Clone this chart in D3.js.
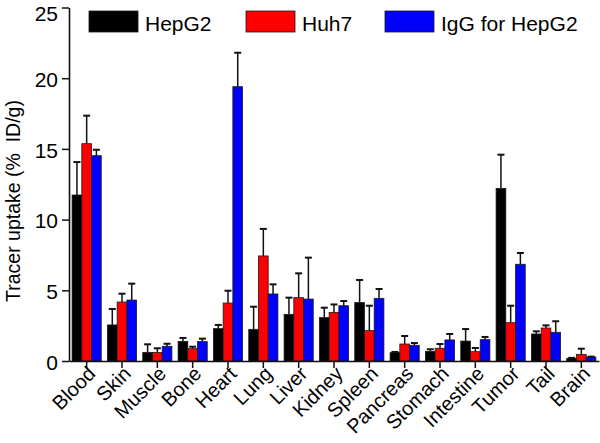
<!DOCTYPE html>
<html>
<head>
<meta charset="utf-8">
<script src="https://cdn.jsdelivr.net/npm/d3@7"></script>
<style>
  html, body { margin: 0; padding: 0; background: #fff; }
  svg { display: block; font-family: "Liberation Sans", Arial, sans-serif; }
</style>
</head>
<body>
<svg id="chart" width="600" height="443"></svg>
<script>
const categories = ["Blood","Skin","Muscle","Bone","Heart","Lung","Liver","Kidney","Spleen","Pancreas","Stomach","Intestine","Tumor","Tail","Brain"];
const seriesNames = ["HepG2", "Huh7", "IgG for HepG2"];
const seriesColors = ["#000000", "#ff0000", "#0000ff"];
const hepg2    = [11.74, 2.55, 0.61, 1.39, 2.29, 2.24, 3.30, 3.07, 4.13, 0.59, 0.68, 1.41, 12.21, 1.91, 0.19];
const hepg2Err = [2.33, 1.13, 0.57, 0.24, 0.26, 1.60, 1.18, 0.70, 1.60, 0.05, 0.15, 0.85, 2.38, 0.19, 0.03];
const huh7     = [15.37, 4.17, 0.60, 0.87, 4.10, 7.43, 4.48, 3.44, 2.15, 1.20, 0.90, 0.66, 2.71, 2.33, 0.47];
const huh7Err  = [1.98, 0.59, 0.30, 0.14, 0.87, 1.91, 1.72, 0.56, 1.76, 0.57, 0.30, 0.26, 1.20, 0.19, 0.40];
const igg      = [14.52, 4.31, 1.04, 1.37, 19.40, 4.74, 4.38, 3.91, 4.43, 1.11, 1.49, 1.51, 6.84, 2.03, 0.28];
const iggErr   = [0.42, 1.16, 0.18, 0.21, 2.40, 0.68, 2.93, 0.33, 0.66, 0.16, 0.42, 0.19, 0.80, 0.78, 0.03];
const yTicks = [0, 5, 10, 15, 20, 25];
const yLabel = "Tracer uptake (%\u00a0 ID/g)";

const values = [hepg2, huh7, igg];
const errors = [hepg2Err, huh7Err, iggErr];

const svg = d3.select("#chart");

const x0 = d3.scaleBand().domain(categories).range([69, 599]).paddingInner(0.175).paddingOuter(0.0875);
const x1 = d3.scaleBand().domain(d3.range(seriesNames.length)).range([0, x0.bandwidth()]);
const y = d3.scaleLinear().domain([0, 25]).range([361, 7.5]);

// bars
const groups = svg.append("g").selectAll("g")
  .data(categories)
  .join("g")
  .attr("transform", d => `translate(${x0(d)},0)`);

groups.each(function(cat, ci) {
  const g = d3.select(this);
  seriesNames.forEach((s, si) => {
    const v = values[si][ci], e = errors[si][ci];
    const bx = x1(si), bw = x1.bandwidth();
    g.append("rect")
      .attr("x", bx).attr("width", bw)
      .attr("y", y(v)).attr("height", y(0) - y(v))
      .attr("fill", seriesColors[si])
      .attr("stroke", "#1a1a1a").attr("stroke-width", 0.8);
    const cx = bx + bw / 2;
    g.append("line")
      .attr("x1", cx).attr("x2", cx)
      .attr("y1", y(v)).attr("y2", y(v + e))
      .attr("stroke", "#111").attr("stroke-width", 1.5);
    g.append("line")
      .attr("x1", cx - 3.5).attr("x2", cx + 3.5)
      .attr("y1", y(v + e)).attr("y2", y(v + e))
      .attr("stroke", "#111").attr("stroke-width", 2);
  });
});

// y axis
const yAxis = svg.append("g")
  .attr("transform", "translate(69,0)")
  .call(d3.axisLeft(y).tickValues(yTicks).tickSize(7).tickSizeOuter(0).tickPadding(4));
yAxis.select(".domain").attr("stroke", "#111").attr("stroke-width", 1.6);
yAxis.selectAll(".tick line").attr("stroke", "#111").attr("stroke-width", 1.5);
yAxis.selectAll(".tick text").attr("font-size", 21).attr("fill", "#000")
  .attr("font-family", "Liberation Sans, Arial, sans-serif")
  .attr("y", d => d === 25 ? 6.5 : 1.5);

// x axis
const xAxis = svg.append("g")
  .attr("transform", `translate(0,${y(0)})`)
  .call(d3.axisBottom(x0).tickSize(7).tickSizeOuter(0));
xAxis.select(".domain").attr("stroke", "#111").attr("stroke-width", 1.6);
xAxis.selectAll(".tick line").attr("stroke", "#111").attr("stroke-width", 1.5);
xAxis.selectAll(".tick text").remove();

svg.append("g").selectAll("text")
  .data(categories)
  .join("text")
  .attr("transform", d => `translate(${x0(d) + x0.bandwidth() / 2 + 10},375) rotate(-45)`)
  .attr("text-anchor", "end")
  .attr("font-size", 20)
  .attr("fill", "#000")
  .text(d => d);

// y label
svg.append("text")
  .attr("transform", "translate(20,201) rotate(-90)")
  .attr("text-anchor", "middle")
  .attr("font-size", 19.5)
  .attr("fill", "#000")
  .style("white-space", "pre")
  .text(yLabel);

// legend
const legendX = [89, 246, 385];
const legend = svg.append("g").selectAll("g")
  .data(seriesNames)
  .join("g")
  .attr("transform", (d, i) => `translate(${legendX[i]},11)`);
legend.append("rect")
  .attr("width", 49).attr("height", 21)
  .attr("fill", (d, i) => seriesColors[i])
  .attr("stroke", "#1a1a1a").attr("stroke-width", 0.8);
legend.append("text")
  .attr("x", 56).attr("y", 20)
  .attr("font-size", 21)
  .attr("fill", "#000")
  .text(d => d);
</script>
</body>
</html>
